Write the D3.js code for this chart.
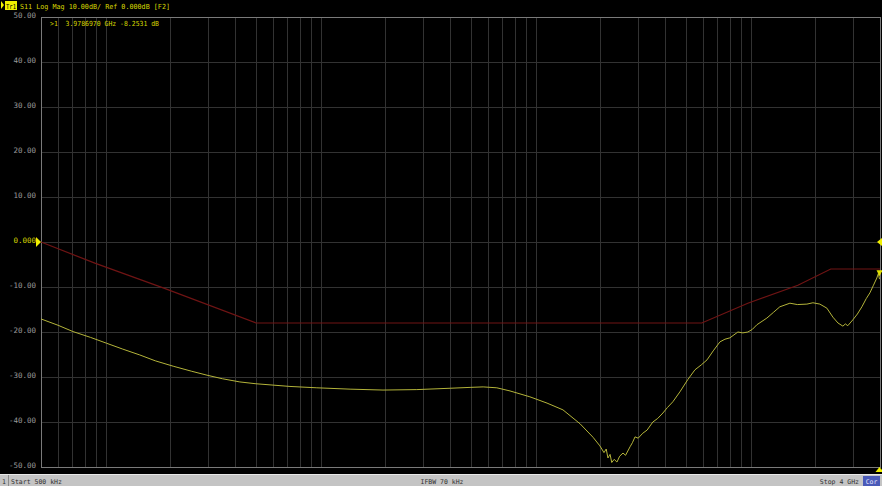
<!DOCTYPE html>
<html><head><meta charset="utf-8">
<script src="https://cdn.jsdelivr.net/npm/d3@7"></script>
<style>
html,body{margin:0;padding:0;background:#000;}
svg{display:block;}
text{font-family:"DejaVu Sans Mono",monospace;}
</style></head>
<body><svg id="c" width="882" height="486"></svg>
<script>
// ---- data ----
const freqStartHz = 5e5, freqStopHz = 4e9;
const yTickValues = [50,40,30,20,10,0,-10,-20,-30,-40,-50];
const yTickLabels = ["50.00","40.00","30.00","20.00","10.00","0.000","-10.00","-20.00","-30.00","-40.00","-50.00"];
const traceFreqMHz = [0.5,0.6,0.704,0.85,1.01,1.2,1.44,1.7,2.06,2.5,2.96,3.5,4.21,5.0,6.0,7.2,9.6,13.7,19.5,28,40,50,57,66,76,94,113,134,161,185,199,208,213,217,222,226,232,239,246,255,262,275,282,290,300,315,330,351,370,391,410,435,469,510,551,590,627,670,720,760,801,873,920,971,1020,1069,1191,1280,1368,1524,1650,1828,1950,2100,2264,2415,2550,2688,2760,2833,2990,3140,3295,3450,3590,3730,3866,3930,3979];
const traceDb = [-17.1,-18.5,-19.9,-21.2,-22.5,-23.8,-25.1,-26.4,-27.6,-28.7,-29.6,-30.4,-31.1,-31.5,-31.8,-32.1,-32.4,-32.7,-32.9,-32.8,-32.5,-32.3,-32.2,-32.4,-33.1,-34.4,-35.8,-37.3,-40.4,-43.4,-45.3,-46.8,-46.0,-48.0,-47.2,-49.0,-48.3,-48.9,-47.6,-46.9,-47.4,-45.5,-44.6,-43.3,-43.6,-42.5,-41.8,-40.0,-39.2,-38.0,-36.8,-35.5,-33.3,-30.6,-28.4,-27.3,-26.2,-24.2,-22.2,-21.6,-21.3,-20.0,-20.2,-20.0,-19.4,-18.4,-16.9,-15.6,-14.4,-13.6,-13.9,-13.8,-13.5,-13.8,-14.7,-16.7,-18.0,-18.7,-18.2,-18.6,-17.3,-16.0,-14.4,-12.6,-11.3,-9.6,-8.0,-7.0,-8.25];
const limitFreqMHz = [0.5,0.89,1.85,5,593,971,1660,2360,4000];
const limitDb = [0,-4.7,-10.2,-18,-18,-13.6,-9.6,-6,-6];
const markerFreqMHz = 3978.697, markerDb = -8.2531;
const headerText = "S11 Log Mag 10.00dB/ Ref 0.000dB [F2]";
const markerText = ">1  3.9786970 GHz -8.2531 dB";

// ---- layout ----
const L = 41, R = 880, T = 17, B = 467;
const svg = d3.select("#c");
svg.append("rect").attr("width",882).attr("height",486).attr("fill","#000");

const x = d3.scaleLog().domain([freqStartHz, freqStopHz]).range([L, R]);
const y = d3.scaleLinear().domain([-50, 50]).range([B, T]);

// vertical grid (log minor lines)
const gridF = [];
for (let d = 5; d <= 9; d++) for (let m = 1; m <= 9; m++) {
  const f = m * Math.pow(10, d);
  if (f > freqStartHz && f < freqStopHz) gridF.push(f);
}
const gx = svg.append("g").attr("transform", `translate(0,${B})`)
  .call(d3.axisBottom(x).tickValues(gridF).tickSize(-(B - T)).tickFormat(""));
gx.select(".domain").remove();
gx.selectAll("line").attr("stroke", "#323232").attr("stroke-width", 1).attr("shape-rendering","crispEdges");

// horizontal grid
const gy = svg.append("g").attr("transform", `translate(${L},0)`)
  .call(d3.axisLeft(y).tickValues(yTickValues.slice(1, -1)).tickSize(-(R - L)).tickFormat(""));
gy.select(".domain").remove();
gy.selectAll("line").attr("stroke", "#323232").attr("stroke-width", 1).attr("shape-rendering","crispEdges");

// border
svg.append("rect").attr("x", L).attr("y", T).attr("width", R - L).attr("height", B - T)
  .attr("fill", "none").attr("stroke", "#7a7a7a").attr("stroke-width", 1).attr("shape-rendering","crispEdges");

// y labels
const yl = svg.append("g").attr("transform", `translate(${L},0)`)
  .call(d3.axisLeft(y).tickValues(yTickValues).tickSize(0).tickPadding(5)
    .tickFormat((d, i) => yTickLabels[i]));
yl.select(".domain").remove();
yl.selectAll("text").attr("font-size", 7.5).attr("font-family", "DejaVu Sans Mono, monospace")
  .attr("fill", d => d === 0 ? "#d8d800" : "#9a9a9a").attr("dy", "0.1em");

// limit line
const line = d3.line().x(d => x(d[0] * 1e6)).y(d => y(d[1]));
svg.append("path").datum(limitFreqMHz.map((f, i) => [f, limitDb[i]]))
  .attr("d", line).attr("fill", "none").attr("stroke", "#701414").attr("stroke-width", 1.2);

// trace
svg.append("path").datum(traceFreqMHz.map((f, i) => [f, traceDb[i]]))
  .attr("d", line).attr("fill", "none").attr("stroke", "#b4b43a").attr("stroke-width", 1);

// reference markers (0 dB)
const y0 = y(0);
svg.append("path").attr("d", `M${L-5},${y0-5}L${L},${y0}L${L-5},${y0+5}Z`).attr("fill", "#f0f000");
svg.append("path").attr("d", `M${882},${y0-4}L${877},${y0}L${882},${y0+4}Z`).attr("fill", "#f0f000");
// marker
const mx = x(markerFreqMHz * 1e6), my = y(markerDb);
svg.append("path").attr("d", `M${mx-3},${my-9}L${mx+3},${my-9}L${mx},${my-3}Z`).attr("fill", "#e0e000");
svg.append("path").attr("d", `M${mx-4},${B+5}L${mx+4},${B+5}L${mx},${B}Z`).attr("fill", "#f0f000");

// header
svg.append("path").attr("d", "M1,1L4,5L1,9Z").attr("fill", "#f0f000");
svg.append("rect").attr("x", 5).attr("y", 1).attr("width", 12).attr("height", 9).attr("fill", "#f0f000");
svg.append("text").attr("x", 6).attr("y", 8.5).attr("font-size", 7).attr("fill", "#000").text("Tr1")
  .attr("textLength", 10).attr("lengthAdjust", "spacingAndGlyphs");
svg.append("text").attr("x", 20).attr("y", 8.5).attr("font-size", 7).attr("fill", "#d8d800").text(headerText)
  .attr("textLength", 150).attr("lengthAdjust", "spacingAndGlyphs");
// marker readout
svg.append("text").attr("x", 50).attr("y", 26).attr("font-size", 7).attr("fill", "#d8d800")
  .attr("xml:space", "preserve").text(markerText)
  .attr("textLength", 109).attr("lengthAdjust", "spacingAndGlyphs");

// status bar
svg.append("rect").attr("x", 0).attr("y", 474).attr("width", 882).attr("height", 12).attr("fill", "#c4c4c4");
svg.append("rect").attr("x", 0).attr("y", 474).attr("width", 882).attr("height", 1).attr("fill", "#e8e8e8");
svg.append("line").attr("x1", 8.5).attr("x2", 8.5).attr("y1", 475).attr("y2", 486).attr("stroke", "#8a8a8a");
const sb = (t, xx, anchor) => svg.append("text").attr("x", xx).attr("y", 483.5).attr("font-size", 6.5)
  .attr("font-family", "Liberation Sans, Arial, sans-serif").attr("fill", "#303030").attr("text-anchor", anchor).text(t);
sb("1", 2, "start");
sb("Start 500 kHz", 11, "start");
sb("IFBW 70 kHz", 442, "middle");
sb("Stop 4 GHz", 859, "end");
svg.append("rect").attr("x", 863).attr("y", 476).attr("width", 17).attr("height", 10).attr("fill", "#4a5ab8");
svg.append("text").attr("x", 871.5).attr("y", 483.5).attr("font-size", 6.5).attr("font-family", "Liberation Sans, Arial, sans-serif")
  .attr("text-anchor", "middle").attr("fill", "#e0e0ff").text("Cor");
</script></body></html>
